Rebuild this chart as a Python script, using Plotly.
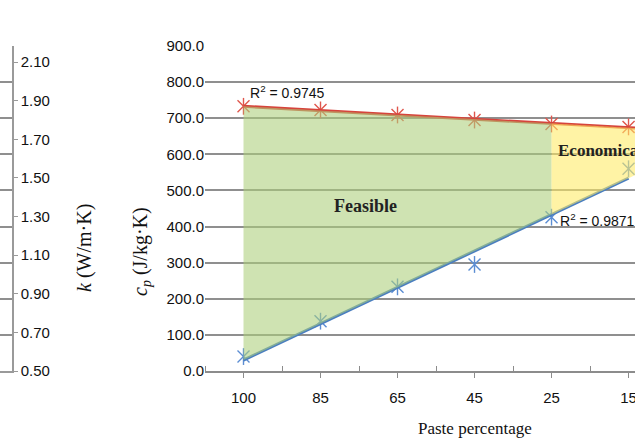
import numpy as np
import plotly.graph_objects as go

# ---- data ----
paste_pct = ["100", "85", "65", "45", "25", "15"]
cp_upper = [733, 723, 709, 695, 684, 676]     # red series (J/kg·K)
cp_lower = [40, 138, 233, 295, 426, 560]      # blue series (J/kg·K)
r2_upper = "0.9745"
r2_lower = "0.9871"
y_ticks = [0, 100, 200, 300, 400, 500, 600, 700, 800, 900]
k_ticks = [0.5, 0.7, 0.9, 1.1, 1.3, 1.5, 1.7, 1.9, 2.1]
feasible_end = "25"   # category where feasible (green) zone ends

W, H = 635, 441
idx = np.arange(len(paste_pct), dtype=float)
x_max = 5.084
x_rng = [-0.5, x_max]

# linear trendlines (as in the spreadsheet)
pu = np.polyfit(idx, cp_upper, 1)
pl = np.polyfit(idx, cp_lower, 1)
f_end = paste_pct.index(feasible_end)

RED = "#D6443C"
RED_M = "#E0574D"
BLUE = "#4A7EC0"
BLUE_M = "#5B8DD3"
GRID = "#8f8f8f"
SANS = "Liberation Sans, Arial, sans-serif"
SERIF = "Liberation Serif, Times New Roman, serif"

fig = go.Figure()

# markers (drawn first: fills sit on top of them)
for ys, col in [(cp_upper, RED_M), (cp_lower, BLUE_M)]:
    for sym in ["x-thin-open", "line-ns-open"]:
        fig.add_trace(go.Scatter(x=idx, y=ys, mode="markers",
                                 marker=dict(symbol=sym, size=12, color=col,
                                             line=dict(color=col, width=1.4)),
                                 showlegend=False, hoverinfo="skip"))

# trendlines
xt_u = np.linspace(0, x_max, 50)
fig.add_trace(go.Scatter(x=xt_u, y=np.polyval(pu, xt_u), mode="lines",
                         line=dict(color=RED, width=3), showlegend=False))
xt_l = np.linspace(0, len(paste_pct) - 1, 50)
fig.add_trace(go.Scatter(x=xt_l, y=np.polyval(pl, xt_l), mode="lines",
                         line=dict(color=BLUE, width=3), showlegend=False))

# feasible region (green)
xg = np.linspace(0, f_end, 40)
fig.add_trace(go.Scatter(x=np.concatenate([xg, xg[::-1]]),
                         y=np.concatenate([np.polyval(pu, xg), np.polyval(pl, xg[::-1])]),
                         fill="toself", fillcolor="rgba(172,206,122,0.58)",
                         mode="none", showlegend=False, hoverinfo="skip"))
# economical region (yellow)
xy = np.linspace(f_end, x_max + 0.2, 40)
fig.add_trace(go.Scatter(x=np.concatenate([xy, xy[::-1]]),
                         y=np.concatenate([np.polyval(pu, xy), np.polyval(pl, xy[::-1])]),
                         fill="toself", fillcolor="rgba(255,234,100,0.58)",
                         mode="none", showlegend=False, hoverinfo="skip"))

# left (cropped) neighbouring chart: gridlines + k axis
fig.add_trace(go.Scatter(x=[0, 1], y=[0, 0], xaxis="x2", yaxis="y2", mode="none",
                         showlegend=False, hoverinfo="skip"))
fig.add_trace(go.Scatter(x=[0, 1], y=[k_ticks[0], k_ticks[0]], xaxis="x2", yaxis="y3",
                         mode="none", showlegend=False, hoverinfo="skip"))

y_dom = [(H - 371) / H, (H - 46) / H]

fig.update_layout(
    width=W, height=H, margin=dict(l=0, r=0, t=0, b=0, pad=0, autoexpand=False),
    paper_bgcolor="white", plot_bgcolor="white",
    xaxis=dict(domain=[205 / W, 1], range=x_rng, tickmode="array", automargin=False,
               tickvals=idx, ticktext=paste_pct, showgrid=False, zeroline=False,
               showline=True, linecolor="#8c8c8c", linewidth=1.5,
               ticks="outside", ticklen=5, tickcolor="#8c8c8c", tickwidth=1.3,
               ticklabelstandoff=7, ticklabeloverflow="allow",
               minor=dict(tickmode="array", tickvals=np.arange(len(paste_pct)) - 0.5,
                          ticks="inside", ticklen=5, tickcolor="#8c8c8c", tickwidth=1.3,
                          showgrid=False),
               tickfont=dict(family=SANS, size=15, color="#111")),
    yaxis=dict(domain=y_dom, range=[0, 900], tickmode="array", tickvals=y_ticks,
               automargin=False, ticklabeloverflow="allow",
               ticktext=[f"{v:.1f}" for v in y_ticks], showgrid=True,
               gridcolor=GRID, gridwidth=1.6, zeroline=False, showline=False,
               ticks="", tickfont=dict(family=SANS, size=15, color="#111")),
    xaxis2=dict(domain=[0, 12 / W], range=[0, 1], anchor="y2", showgrid=False,
                automargin=False,
                zeroline=False, showticklabels=False, showline=True,
                linecolor="#9a9a9a", linewidth=1.5, ticks=""),
    yaxis2=dict(domain=y_dom, range=[0, 900], anchor="x2", tickvals=y_ticks,
                automargin=False,
                showgrid=True, gridcolor=GRID, gridwidth=1.5, zeroline=False,
                showticklabels=False, ticks="", showline=False),
    yaxis3=dict(overlaying="y2", side="right", anchor="x2", range=[0.5, 2.183],
                automargin=False, ticklabeloverflow="allow",
                tickmode="array", tickvals=k_ticks,
                ticktext=[f"{v:.2f}" for v in k_ticks], showgrid=False,
                zeroline=False, showline=True, linecolor="#9a9a9a", linewidth=1.5,
                ticks="outside", ticklen=4, tickcolor="#9a9a9a",
                tickfont=dict(family=SANS, size=15, color="#111")),
)

ann = [
    dict(text="<i>c</i><sub><i>p</i></sub> (J/kg·K)", x=141 / W, y=(H - 252) / H,
         xref="paper", yref="paper", xanchor="center", yanchor="middle",
         textangle=-90, showarrow=False,
         font=dict(family=SERIF, size=20, color="#111")),
    dict(text="<i>k</i> (W/m·K)", x=84 / W, y=(H - 248) / H,
         xref="paper", yref="paper", xanchor="center", yanchor="middle",
         textangle=-90, showarrow=False,
         font=dict(family=SERIF, size=20, color="#111")),
    dict(text="Paste percentage", x=475 / W, y=(H - 428) / H, xref="paper",
         yref="paper", xanchor="center", yanchor="middle", showarrow=False,
         font=dict(family=SERIF, size=17, color="#111")),
    dict(text="<b>Feasible</b>", x=1.59, y=457, xref="x", yref="y", showarrow=False,
         xanchor="center", yanchor="middle",
         font=dict(family=SERIF, size=18, color="#222")),
    dict(text="<b>Economical</b>", x=4.06, y=612, xref="x", yref="y", xanchor="left",
         yanchor="middle", showarrow=False, font=dict(family=SERIF, size=17, color="#222")),
    dict(text=f"R<sup>2</sup> = {r2_upper}", x=0.06, y=772, xref="x", yref="y",
         xanchor="left", yanchor="middle", showarrow=False,
         font=dict(family=SANS, size=14, color="#111")),
    dict(text=f"R<sup>2</sup> = {r2_lower}", x=4.09, y=418, xref="x", yref="y",
         xanchor="left", yanchor="middle", showarrow=False,
         font=dict(family=SANS, size=14, color="#111")),
]
fig.update_layout(annotations=ann)

fig.write_html("out.html")
